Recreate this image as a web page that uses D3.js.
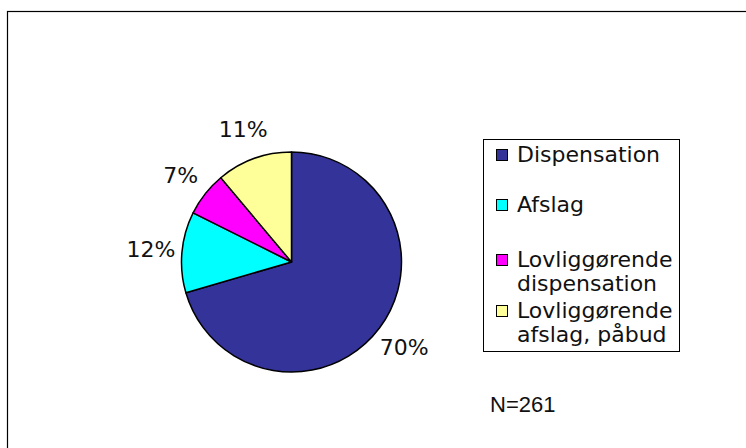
<!DOCTYPE html>
<html>
<head>
<meta charset="utf-8">
<script src="https://cdn.jsdelivr.net/npm/d3@7"></script>
<style>
  html, body { margin: 0; padding: 0; background: #fff; }
  svg { display: block; }
</style>
</head>
<body>
<svg id="chart" width="746" height="448"></svg>
<script>
// Data
const categories = ["Dispensation", "Afslag", "Lovliggørende dispensation", "Lovliggørende afslag, påbud"];
const legendLines = [["Dispensation"], ["Afslag"], ["Lovliggørende", "dispensation"], ["Lovliggørende", "afslag, påbud"]];
const counts = [184, 31, 17, 29];
const percentLabels = ["70%", "12%", "7%", "11%"];
const colors = ["#333399", "#00FFFF", "#FF00FF", "#FFFF99"];
const nLabel = "N=261";

const svg = d3.select("#chart");

// outer frame (extends past right/bottom edge)
svg.append("rect")
  .attr("x", 7.5).attr("y", 11.5)
  .attr("width", 760).attr("height", 460)
  .attr("fill", "none").attr("stroke", "#000").attr("stroke-width", 1.2);

const cx = 291.5, cy = 262, R = 110;
const g = svg.append("g").attr("transform", `translate(${cx},${cy})`);

const pie = d3.pie().sort(null).value(d => d)
  .startAngle(0).endAngle(2 * Math.PI);
const arcs = pie(counts);
const arc = d3.arc().innerRadius(0).outerRadius(R);
const labelArc = d3.arc().innerRadius(141).outerRadius(141);

g.selectAll("path.slice").data(arcs).enter().append("path")
  .attr("class", "slice")
  .attr("d", arc)
  .attr("fill", (d, i) => colors[i])
  .attr("stroke", "#000")
  .attr("stroke-width", 1.5)
  .attr("stroke-linejoin", "round");

g.selectAll("text.pct").data(arcs).enter().append("text")
  .attr("class", "pct")
  .attr("transform", d => `translate(${labelArc.centroid(d)})`)
  .attr("text-anchor", "middle")
  .attr("dy", "0.36em")
  .attr("font-family", "DejaVu Sans, Verdana, sans-serif")
  .attr("font-size", 22)
  .attr("fill", "#111")
  .text((d, i) => percentLabels[i]);

// Legend
const lx = 483.5, ly = 139.5, lw = 196, lh = 212;
svg.append("rect")
  .attr("x", lx).attr("y", ly).attr("width", lw).attr("height", lh)
  .attr("fill", "#fff").attr("stroke", "#000").attr("stroke-width", 1);

const itemBaselines = [162, 212, 267, 318];
const lineGap = 23.5;
const leg = svg.append("g");
categories.forEach((c, i) => {
  const b = itemBaselines[i];
  leg.append("rect")
    .attr("x", 496.5).attr("y", b - 12.5)
    .attr("width", 11).attr("height", 11)
    .attr("fill", colors[i]).attr("stroke", "#000").attr("stroke-width", 1);
  legendLines[i].forEach((t, j) => {
    leg.append("text")
      .attr("x", 517).attr("y", b + j * lineGap)
      .attr("font-family", "DejaVu Sans, Verdana, sans-serif")
      .attr("font-size", 22)
      .attr("fill", "#111")
      .text(t);
  });
});

svg.append("text")
  .attr("x", 490).attr("y", 412)
  .attr("font-family", "Liberation Sans, Arial, sans-serif")
  .attr("font-size", 22)
  .attr("fill", "#111")
  .text(nLabel);
</script>
</body>
</html>
